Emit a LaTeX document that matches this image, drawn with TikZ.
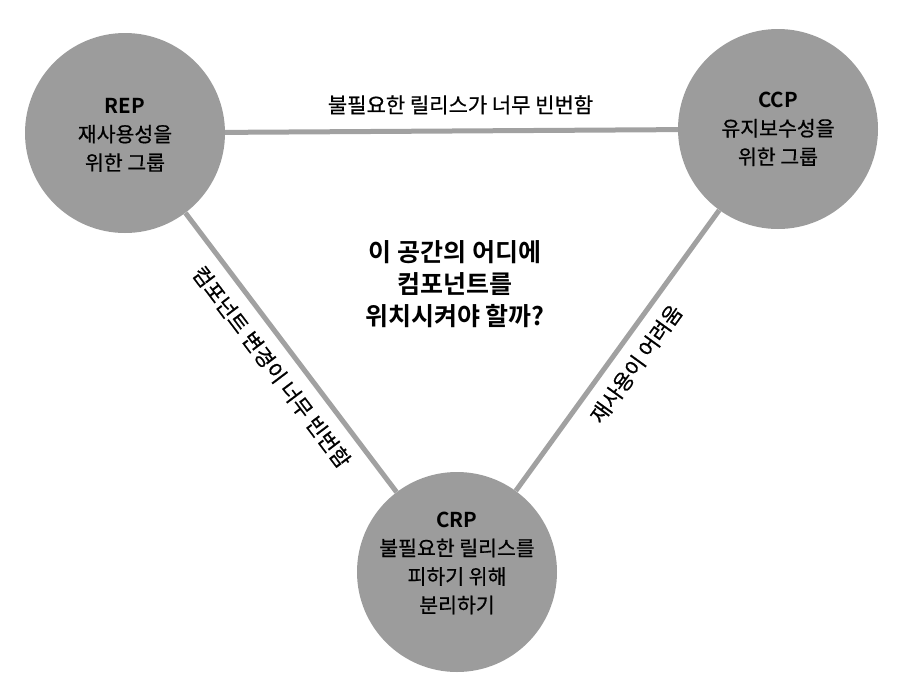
\documentclass[tikz,border=0pt]{standalone}
\usepackage{fontspec}
\setmainfont{Noto Sans CJK KR}[UprightFeatures={FakeBold=0.6}, BoldFont={Noto Sans CJK KR Bold}, BoldFeatures={FakeBold=0}]
\usetikzlibrary{positioning}
\definecolor{discgray}{gray}{0.61}
\definecolor{edgegray}{gray}{0.63}
\tikzset{
  principle/.style={circle, fill=discgray, minimum size=200pt, inner sep=0pt},
  principletext/.style={align=center, inner sep=0pt, font=\fontsize{20.5}{28.5}\selectfont},
  tieline/.style={draw=edgegray, line width=5pt},
  tielabel/.style={font=\fontsize{21}{24}\selectfont, inner sep=0pt}
}

\begin{document}
\begin{tikzpicture}[x=1pt, y=-1pt]
\useasboundingbox (0,0) rectangle (898,678);
% the three principles
\node[principle] (rep) at (125,133) {};
\node[principle] (ccp) at (778,129) {};
\node[principle] (crp) at (457,572) {};
\node[principletext] (reptext) at ([yshift=-2pt]rep.center) {\textbf{REP}\\재사용성을\\위한 그룹};
\node[principletext] (ccptext) at ([yshift=0pt]ccp.center) {\textbf{CCP}\\유지보수성을\\위한 그룹};
\node[principletext] (crptext) at ([yshift=9pt]crp.center) {\textbf{CRP}\\불필요한 릴리스를\\피하기 위해\\분리하기};
% tension edges
\draw[tieline] (rep) -- (ccp)
  node[tielabel, pos=0.52, above=14pt] (repccp) {불필요한 릴리스가 너무 빈번함};
\draw[tieline] (rep) -- (crp)
  node[tielabel, midway, sloped, below=12pt] (repcrp) {컴포넌트 변경이 너무 빈번함};
\draw[tieline] (crp) -- (ccp)
  node[tielabel, midway, sloped, below=11pt] (crpccp) {재사용이 어려움};
% question in the middle
\node[font=\bfseries\fontsize{25}{32}\selectfont, align=center] (question) at (455,284)
  {이 공간의 어디에\\컴포넌트를\\위치시켜야 할까?};
\end{tikzpicture}
\end{document}
